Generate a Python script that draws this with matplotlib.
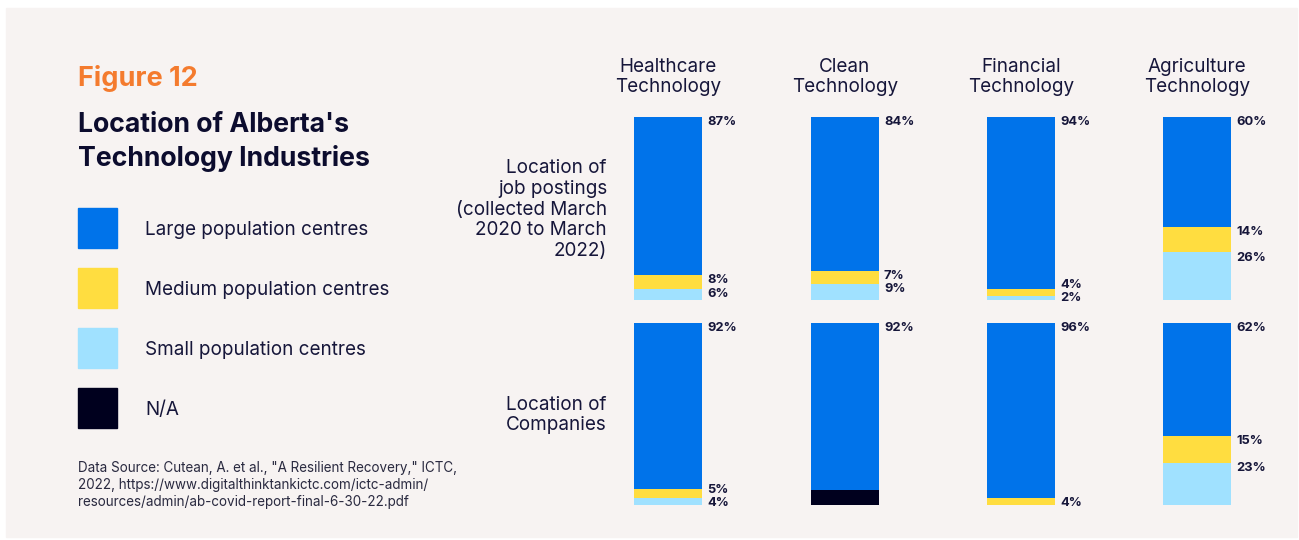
import matplotlib.pyplot as plt
from matplotlib.patches import Rectangle

plt.rcParams['font.family'] = ['Inter', 'DejaVu Sans']

W, H = 1299, 540

industries = ['Healthcare\nTechnology', 'Clean\nTechnology', 'Financial\nTechnology', 'Agriculture\nTechnology']
row_labels = ['Location of\njob postings\n(collected March\n2020 to March\n2022)', 'Location of\nCompanies']
categories = ['Large population centres', 'Medium population centres', 'Small population centres', 'N/A']

# shares per row: [large, medium, small, n/a]
postings = [[87, 8, 6, 0], [84, 7, 9, 0], [94, 4, 2, 0], [60, 14, 26, 0]]
companies = [[92, 5, 4, 0], [92, 0, 0, 8], [96, 4, 0, 0], [62, 15, 23, 0]]

colors = ['#0073EA', '#FFDD40', '#A0E1FF', '#00001E']
text_c = '#16163A'
bg = '#F7F3F2'

fig = plt.figure(figsize=(W / 100, H / 100), dpi=100)
fig.patch.set_facecolor('white')
fig.patches.append(Rectangle((6 / W, 1 - 537 / H), 1291 / W, 529 / H,
                             transform=fig.transFigure, color=bg, zorder=-5))


def fx(x):
    return x / W


def fy(y):
    return 1 - y / H


# left side text
fig.text(fx(78), fy(79), 'Figure 12', color='#F47B2E', fontsize=19.5, fontweight='bold', va='center')
fig.text(fx(78), fy(142), "Location of Alberta's\nTechnology Industries", color='#0C0C2E',
         fontsize=19.2, fontweight='bold', va='center', linespacing=1.33)

for k, cat in enumerate(categories):
    yc = 228 + k * 60
    fig.patches.append(Rectangle((fx(78), fy(yc + 20)), 39 / W, 40 / H,
                                 transform=fig.transFigure, color=colors[k]))
    fig.text(fx(145), fy(yc + 2), cat, color=text_c, fontsize=13.6, va='center')

fig.text(fx(78), fy(485), 'Data Source: Cutean, A. et al., "A Resilient Recovery," ICTC,\n'
         '2022, https://www.digitalthinktankictc.com/ictc-admin/\n'
         'resources/admin/ab-covid-report-final-6-30-22.pdf',
         color='#2A2A40', fontsize=9.7, va='center', linespacing=1.3)

# bars
bar_left = [634, 811, 987, 1163]
bar_w = 68
rows = [(postings, 117, 300), (companies, 323, 505)]

for r, (data, top, bottom) in enumerate(rows):
    fig.text(fx(607), fy((top + bottom) / 2 + 1), row_labels[r],
             color=text_c, fontsize=13.6, ha='right', va='center', linespacing=1.21)
    for i, vals in enumerate(data):
        ax = fig.add_axes([fx(bar_left[i]), fy(bottom), bar_w / W, (bottom - top) / H])
        ax.set_axis_off()
        total = sum(vals)
        start = 0
        label_pos = []
        for k, v in enumerate(vals):
            if v == 0:
                continue
            ax.bar(0, v, bottom=start, width=1, color=colors[k])
            if k < 3:
                label_pos.append([start + 2.9, v])
            start += v
        ax.set_xlim(-0.5, 0.5)
        ax.set_ylim(total, 0)
        # keep labels inside the bar and apart from each other
        lim = total - 1
        for j in range(len(label_pos) - 1, -1, -1):
            label_pos[j][0] = min(label_pos[j][0], lim)
            lim = label_pos[j][0] - 7
        for y, v in label_pos:
            ax.text(1 + 5 / bar_w, y, f'{v}%', transform=ax.get_yaxis_transform(),
                    fontsize=9.3, fontweight='bold', color=text_c, va='center', ha='left')

for i, name in enumerate(industries):
    fig.text(fx(bar_left[i] + bar_w / 2), fy(77), name, color=text_c, fontsize=13.6,
             ha='center', va='center', linespacing=1.2)

plt.savefig('out.png', dpi=100, facecolor=fig.get_facecolor())
